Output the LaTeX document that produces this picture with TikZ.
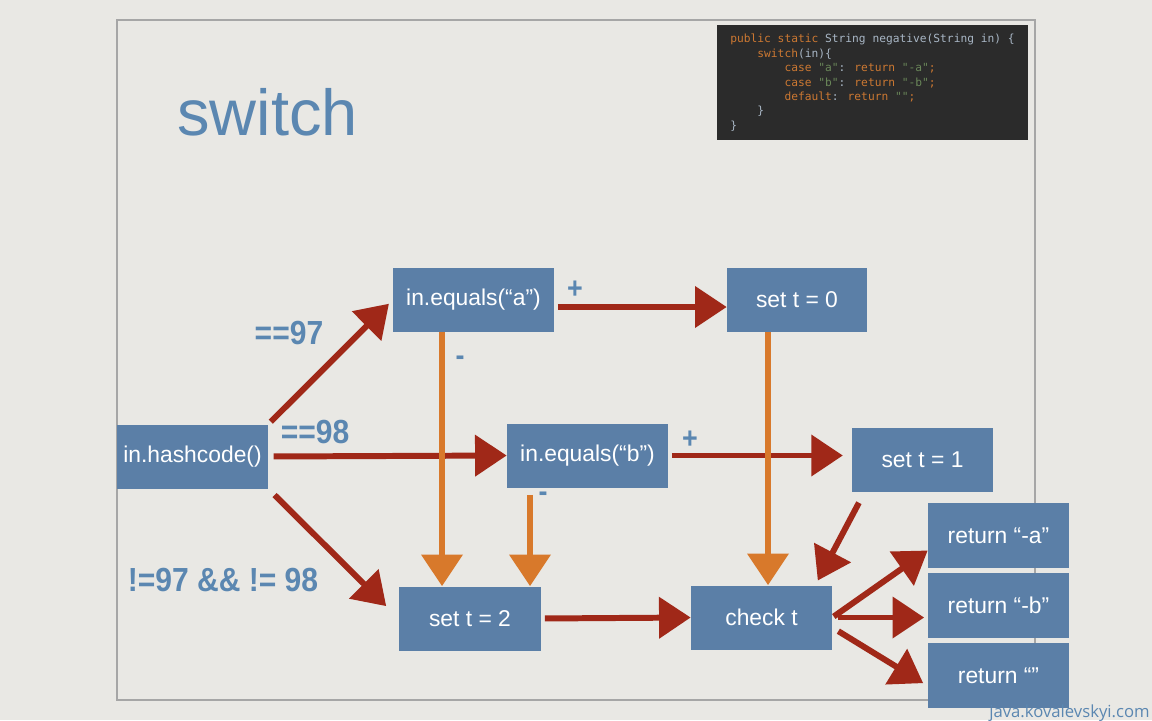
\documentclass[tikz,border=0pt]{standalone}
\usepackage{fontspec}
\setmainfont{Liberation Sans}
\newfontfamily\condfont[FakeStretch=0.9]{Liberation Sans}
\newfontfamily\codefont{DejaVu Sans Mono}
\newfontfamily\webfont{Open Sans}
\usetikzlibrary{shapes, arrows.meta, positioning}

\definecolor{paper}{HTML}{E9E8E4}
\definecolor{boxblue}{HTML}{5B7FA7}
\definecolor{inkblue}{HTML}{5B87B1}
\definecolor{chalkred}{HTML}{A02818}
\definecolor{chalkorange}{HTML}{D8792B}
\definecolor{codebg}{HTML}{2B2B2B}
\definecolor{codekw}{HTML}{CC7832}
\definecolor{codetxt}{HTML}{A9B7C6}
\definecolor{codestr}{HTML}{6A8759}

\tikzstyle{block} = [rectangle, fill=boxblue, text=white, inner sep=0pt, minimum width=2.82cm, minimum height=1.28cm, font=\fontsize{13}{15}\selectfont]
\tikzstyle{retblock} = [block, minimum height=1.3cm]
\tikzstyle{cond} = [text=inkblue, inner sep=0pt, font=\condfont\bfseries\fontsize{19}{21}\selectfont]
\tikzstyle{sign} = [text=inkblue, inner sep=0pt, font=\condfont\bfseries\fontsize{17}{19}\selectfont]
\tikzstyle{yes} = [->, draw=chalkred, line width=3.4pt]
\tikzstyle{no} = [->, draw=chalkorange, line width=3.4pt]

\newcommand{\kw}[1]{\textcolor{codekw}{#1}}
\newcommand{\str}[1]{\textcolor{codestr}{#1}}
\newcommand{\ind}[1]{\phantom{#1}}

\begin{document}
\begin{tikzpicture}[x=0.02cm, y=-0.02cm, node distance=0.09cm, >={Triangle[width=23pt,length=18pt]}]
\useasboundingbox (0,0) rectangle (1152,720);
\fill [paper] (0,0) rectangle (1152,720);
\draw [gray!70, line width=0.6pt] (117,20) rectangle (1035,700);

% title and code
\node [text=inkblue, font=\fontsize{37}{40}\selectfont, anchor=base west, inner sep=0pt] (title) at (177,135) {switch};
\node [fill=codebg, minimum width=6.22cm, minimum height=2.3cm, inner sep=0pt] (codebox) at (872.5,82.5) {};
\node [anchor=north west, inner sep=0pt, align=left, text=codetxt, font=\codefont\fontsize{6.4}{8.2}\selectfont] (code) at (730,34) {%
\kw{public static} String negative(String in) \{\\
\ind{xxxx}\kw{switch}(in)\{\\
\ind{xxxxxxxx}\kw{case} \str{"a"}: \kw{return} \str{"-a"}\kw{;}\\
\ind{xxxxxxxx}\kw{case} \str{"b"}: \kw{return} \str{"-b"}\kw{;}\\
\ind{xxxxxxxx}\kw{default}: \kw{return} \str{""}\kw{;}\\
\ind{xxxx}\}\\
\}};

% boxes
\node [block, minimum width=3.02cm] (hash) at (192.5,456.5) {in.hashcode()};
\node [block, minimum width=3.22cm] (eqa) at (473.5,300) {in.equals(“a”)};
\node [block, minimum width=2.8cm] (t0) at (797,300) {set t = 0};
\node [block, minimum width=3.22cm] (eqb) at (587.5,455.5) {in.equals(“b”)};
\node [block] (t1) at (922.5,459.5) {set t = 1};
\node [block, minimum width=2.84cm] (t2) at (470,618.5) {set t = 2};
\node [block] (chk) at (761.5,617.5) {check t};
\node [retblock] (reta) at (998.5,535.5) {return “-a”};
\node [retblock, below=of reta] (retb) {return “-b”};
\node [retblock, below=of retb] (retd) {return “”};

% labels
\node [cond] (eq97) at (289,333) {==97};
\node [cond] (eq98) at (315,432) {==98};
\node [cond] (neq) at (223,580) {!=97 \&\& != 98};
\node [sign] (plusa) at (575,290) {+};
\node [sign] (minusa) at (460,361) {-};
\node [sign] (plusb) at (690,440) {+};
\node [sign] (minusb) at (543,497) {-};

% red arrows
\draw [yes, shorten <=2pt, shorten >=3pt] (hash.north east) -- (eqa.west);
\draw [yes, shorten <=3pt] (hash.east) -- (eqb.west);
\draw [yes, shorten <=5pt, shorten >=10pt] (hash.south east) -- (t2.west);
\draw [yes, shorten <=2pt] ([yshift=-0.14cm]eqa.east) -- ([yshift=-0.14cm]t0.west);
\draw [yes, shorten <=2pt, shorten >=5pt] (eqb.east) -- (eqb.east -| t1.west);
\draw [yes, shorten <=2pt] (t2.east) -- (chk.west);
\draw [yes, shorten <=7pt, shorten >=3pt] ([xshift=0.26cm]t1.south west) -- ([xshift=-0.34cm]chk.north east);
\draw [yes, shorten <=1pt] (chk.east) -- ([yshift=-0.3cm]reta.west);
\draw [yes, shorten <=3pt, shorten >=2pt] (chk.east) -- (chk.east -| retb.west);
\draw [yes, shorten <=4pt, shorten >=3pt] ([yshift=-0.2cm]chk.east) -- ([yshift=-0.2cm]retd.west);

% orange arrows
\coordinate (alegs) at ([xshift=-0.63cm]eqa.south);
\coordinate (blegs) at ([xshift=-1.15cm]eqb.south);
\coordinate (zlegs) at ([xshift=-0.58cm]t0.south);
\draw [no] (alegs) -- (alegs |- t2.north);
\draw [no, shorten <=4pt] (blegs) -- (blegs |- t2.north);
\draw [no] (zlegs) -- (zlegs |- chk.north);

\node [text=inkblue, font=\webfont\fontsize{9.5}{11}\selectfont, anchor=base east, inner sep=0pt] (footer) at (1150,717) {java.kovalevskyi.com};
\end{tikzpicture}
\end{document}
